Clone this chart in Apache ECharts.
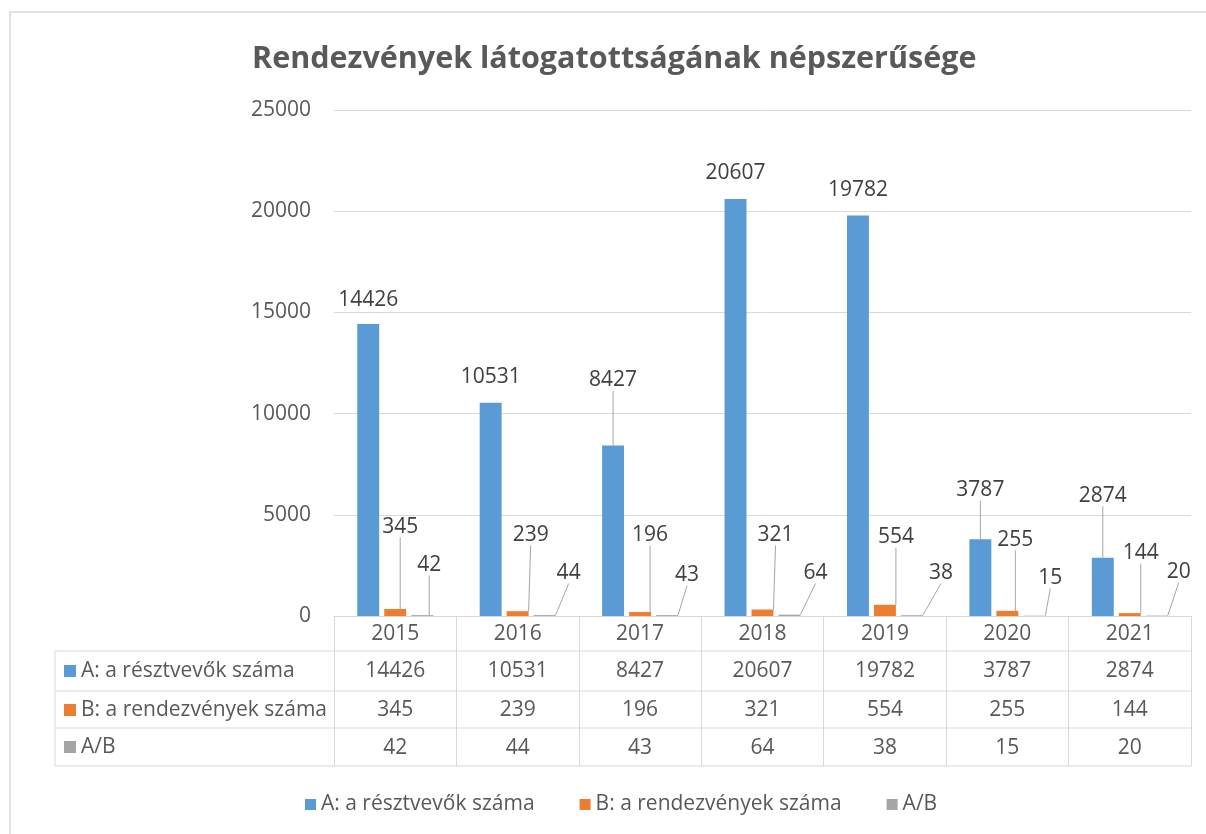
<!DOCTYPE html>
<html><head><meta charset="utf-8">
<script src="https://cdn.jsdelivr.net/npm/echarts@6/dist/echarts.min.js"></script>
<style>html,body{margin:0;padding:0;background:#fff}#c{width:1206px;height:834px}</style>
</head><body><div id="c"></div>
<script>
const categories = ['2015','2016','2017','2018','2019','2020','2021'];
const seriesNames = ['A: a résztvevők száma','B: a rendezvények száma','A/B'];
const participants = [14426,10531,8427,20607,19782,3787,2874];
const events = [345,239,196,321,554,255,144];
const ratio = [42,44,43,64,38,15,20];
const yTicks = [0,5000,10000,15000,20000,25000];

// label placement (pixels), layout only
const blueLift = [24,26,65,26,26,49,62];
const orangeLabel = [[5,89],[13,81],[10,81],[13,81],[11,79],[8,76],[11,63]];
const grayLabel = [[7,51],[24,43],[20,41],[26,43],[29,43],[16,38],[22,44]];

const FONT = 'Open Sans';
const colors = ['#5B9BD5','#ED7D31','#A5A5A5'];
const TXT = '#595959';
const GRID = {left:334, right:1191, top:110, bottom:616};
const rowY = [651, 691, 728, 766];
const rowMid = [671, 710, 747];
const tableLeft = 55;

const chart = echarts.init(document.getElementById('c'));

function mkSeries(i, values, place, lineShow){
  return {
    name: seriesNames[i], type:'bar',
    barCategoryGap:'38%', barGap:'23%',
    data: values.map((v,j)=>({value:v, labelLine:{show: lineShow(j)}})),
    itemStyle:{color:colors[i]},
    label:{show:true, position:'top', fontFamily:FONT, fontSize:21, color:'#404040'},
    labelLine:{show:true, lineStyle:{color:'#a6a6a6', width:1}},
    labelLayout: p=>{
      const cx = p.rect.x + p.rect.width/2;
      const top = p.rect.y;
      const base = p.rect.y + p.rect.height;
      const pos = place(cx, top, base, p.dataIndex);
      const out = {x:pos[0], y:pos[1], align:'center', verticalAlign:'middle'};
      if (lineShow(p.dataIndex)) out.labelLinePoints = [[cx, top], [pos[0], pos[1]+12]];
      return out;
    }
  };
}

const graphics = [
  {type:'rect', silent:true, z:-10, shape:{x:10,y:12,width:1220,height:850}, style:{fill:'none', stroke:'#d9d9d9', lineWidth:1.5}},
  {type:'line', silent:true, shape:{x1:tableLeft,y1:rowY[0],x2:tableLeft,y2:rowY[3]}, style:{stroke:'#d9d9d9', lineWidth:1}}
];
rowY.forEach(y=>graphics.push({type:'line', silent:true, shape:{x1:tableLeft,y1:y,x2:GRID.right,y2:y}, style:{stroke:'#d9d9d9', lineWidth:1}}));
seriesNames.forEach((n,i)=>{
  graphics.push({type:'rect', silent:true, shape:{x:64,y:rowMid[i]-6,width:12,height:12}, style:{fill:colors[i]}});
  graphics.push({type:'text', silent:true, x:81, y:rowMid[i], style:{text:n, fontFamily:FONT, fontSize:21, fill:TXT, verticalAlign:'middle', align:'left'}});
});

const option = {
  animation:false,
  backgroundColor:'#fff',
  title:{text:'Rendezvények látogatottságának népszerűsége', left:247, top:39,
    textStyle:{fontFamily:FONT, fontWeight:'bold', fontSize:30.5, color:TXT}},
  legend:{data:seriesNames, left:300, top:789, icon:'rect', itemWidth:11, itemHeight:11, itemGap:45,
    textStyle:{fontFamily:FONT, fontSize:21, color:TXT}},
  grid:{left:GRID.left, right:1206-GRID.right, top:GRID.top, bottom:834-GRID.bottom, containLabel:false},
  xAxis:{type:'category', data:categories,
    axisLine:{lineStyle:{color:'#d9d9d9'}},
    axisTick:{show:true, length:150, lineStyle:{color:'#d9d9d9'}},
    axisLabel:{interval:0, margin:1,
      formatter:(v,idx)=>`{c|${v}}\n{v|${participants[idx]}}\n{v|${events[idx]}}\n{v|${ratio[idx]}}`,
      rich:{c:{fontFamily:FONT,fontSize:21,color:TXT,lineHeight:35},
            v:{fontFamily:FONT,fontSize:21,color:TXT,lineHeight:38.5}}}
  },
  yAxis:{type:'value', min:yTicks[0], max:yTicks[yTicks.length-1], interval:yTicks[1]-yTicks[0],
    axisLine:{show:false}, axisTick:{show:false},
    axisLabel:{fontFamily:FONT, fontSize:21, color:TXT, margin:23, formatter:v=>String(v)},
    splitLine:{lineStyle:{color:'#d9d9d9'}}},
  graphic: graphics,
  series:[
    mkSeries(0, participants, (cx,top,base,j)=>[cx, top-blueLift[j]], j=>blueLift[j]>30),
    mkSeries(1, events, (cx,top,base,j)=>[cx+orangeLabel[j][0], base-orangeLabel[j][1]], j=>true),
    mkSeries(2, ratio, (cx,top,base,j)=>[cx+grayLabel[j][0], base-grayLabel[j][1]], j=>true)
  ]
};
chart.setOption(option);
</script></body></html>
